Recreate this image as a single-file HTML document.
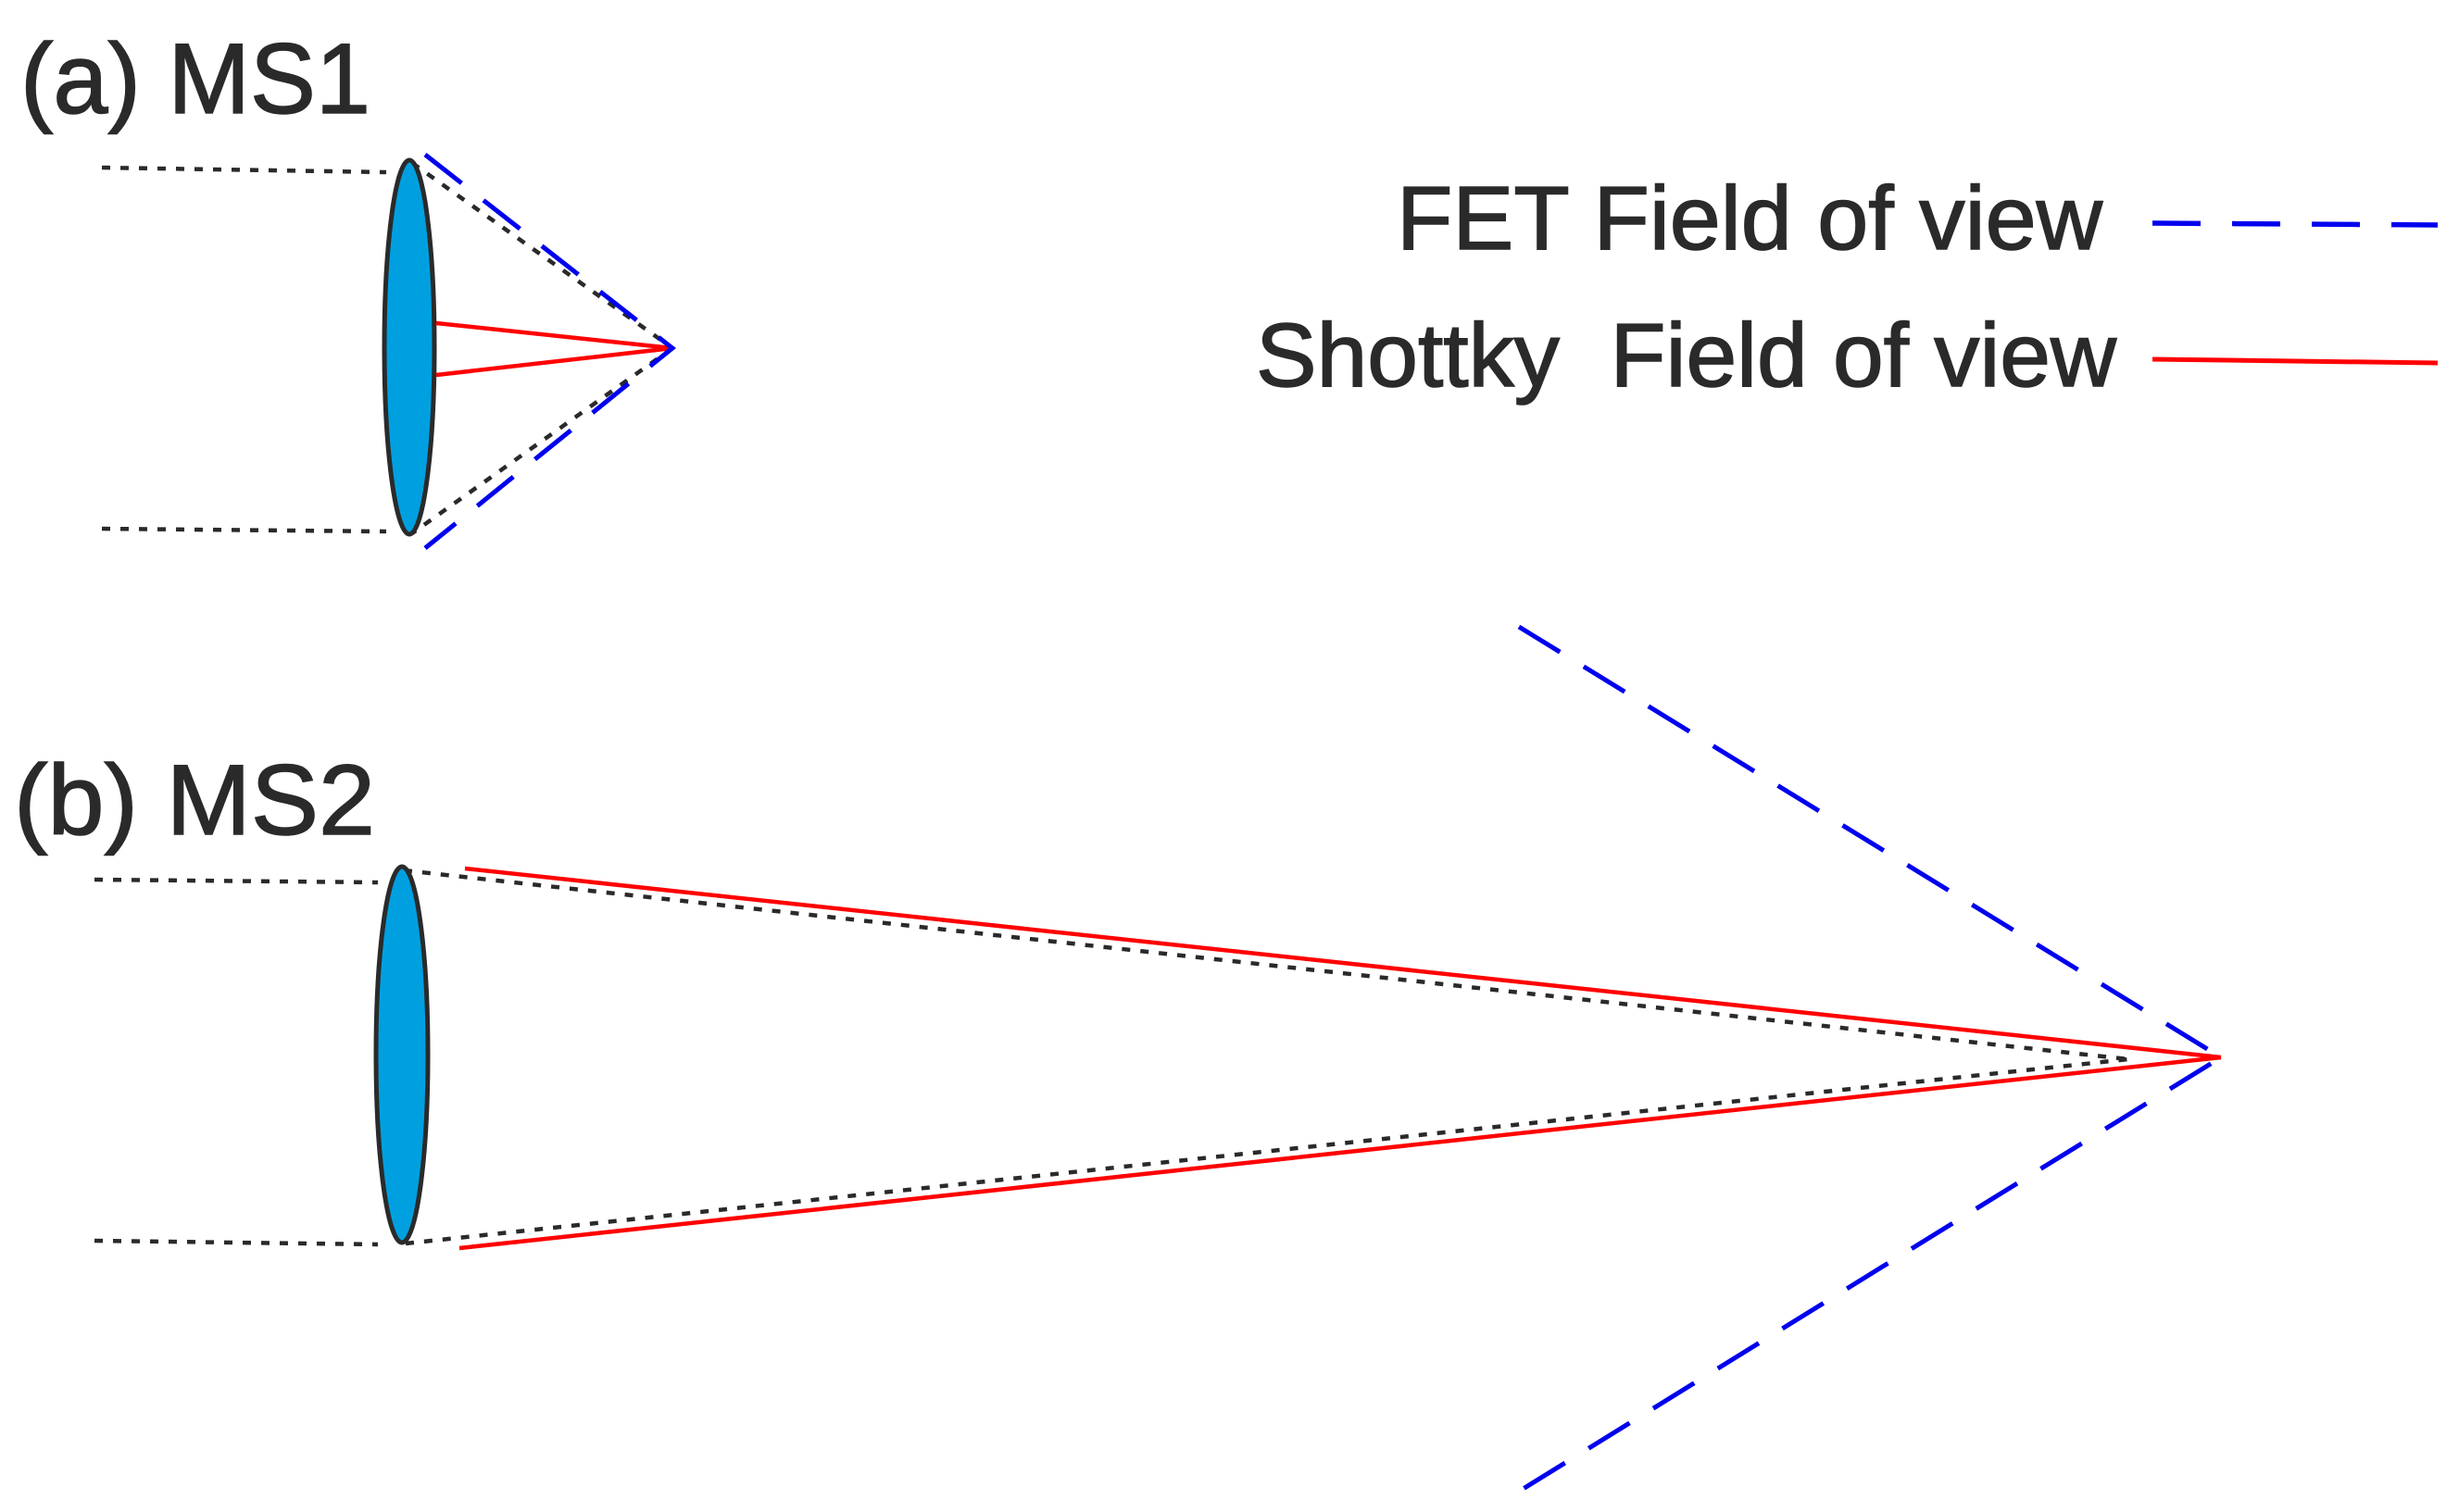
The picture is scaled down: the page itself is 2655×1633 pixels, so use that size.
<!DOCTYPE html>
<html><head><meta charset="utf-8"><style>html,body{margin:0;padding:0;background:#fff}svg{display:block}</style></head>
<body>
<svg width="2655" height="1633" viewBox="0 0 2655 1633" xmlns="http://www.w3.org/2000/svg">
<g font-family="Liberation Sans, Arial, sans-serif" fill="#2a2a2a" stroke="#2a2a2a" stroke-width="1.5">
<text x="22" y="122" font-size="108" textLength="378" lengthAdjust="spacingAndGlyphs">(a) MS1</text>
<text x="15" y="901" font-size="108" textLength="390" lengthAdjust="spacingAndGlyphs">(b) MS2</text>
<text x="1508" y="269" font-size="97" textLength="762" lengthAdjust="spacingAndGlyphs">FET Field of view</text>
<text x="1356" y="417" font-size="97" textLength="929" lengthAdjust="spacingAndGlyphs">Shottky&#160; Field of view</text>
</g>
<!-- legend -->
<line x1="2324" y1="241" x2="2632" y2="243" stroke="#0000ee" stroke-width="5.5" stroke-dasharray="52,34"/>
<line x1="2324" y1="388" x2="2632" y2="392" stroke="#ff0000" stroke-width="5"/>

<!-- (a) MS1 -->
<g stroke="#2a2a2a" stroke-width="4.5" stroke-dasharray="9,11" fill="none">
<line x1="110" y1="181" x2="417" y2="186"/>
<line x1="110" y1="571" x2="417" y2="574"/>
<line x1="445" y1="176" x2="726" y2="376"/>
<line x1="726" y1="376" x2="445" y2="576"/>
</g>
<ellipse cx="442" cy="375" rx="27" ry="202" fill="#00a0e0" stroke="#2a2a2a" stroke-width="5"/>
<g stroke="#ff0000" stroke-width="4.5">
<line x1="471" y1="349" x2="726" y2="376"/>
<line x1="471" y1="405" x2="726" y2="376"/>
</g>
<g stroke="#0000ee" stroke-width="5" stroke-dasharray="50,30" fill="none">
<polyline points="459,167 726,376 459,592"/>
</g>

<!-- (b) MS2 -->
<g stroke="#2a2a2a" stroke-width="4.5" stroke-dasharray="9,11" fill="none">
<line x1="102" y1="950" x2="408" y2="953"/>
<line x1="102" y1="1340" x2="408" y2="1344"/>
<line x1="436" y1="940" x2="2298" y2="1144"/>
<line x1="438" y1="1343" x2="2298" y2="1144"/>
</g>
<ellipse cx="434" cy="1139" rx="28" ry="203" fill="#00a0e0" stroke="#2a2a2a" stroke-width="5"/>
<g stroke="#ff0000" stroke-width="4.5">
<line x1="502" y1="938" x2="2398" y2="1142"/>
<line x1="496" y1="1348" x2="2398" y2="1142"/>
</g>
<g stroke="#0000ee" stroke-width="5" stroke-dasharray="52,30" fill="none">
<polyline points="1640,677 2398,1142 1638,1612"/>
</g>
</svg>
</body></html>
